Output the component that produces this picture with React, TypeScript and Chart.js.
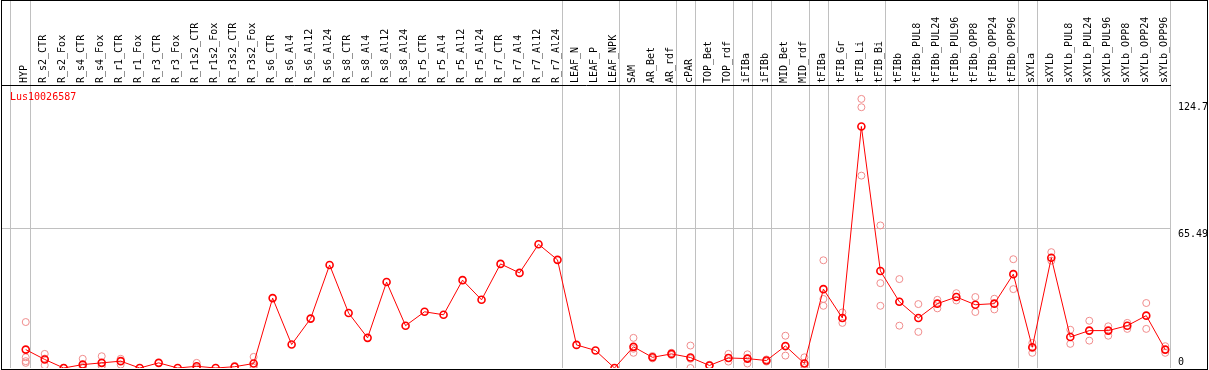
import { useEffect, useRef } from 'react';
import { Chart, registerables } from 'chart.js';

Chart.register(...registerables);

const geneName = 'Lus10026587';

const categories = [
  'HYP', 'R_s2_CTR', 'R_s2_Fox', 'R_s4_CTR', 'R_s4_Fox', 'R_r1_CTR', 'R_r1_Fox', 'R_r3_CTR', 'R_r3_Fox',
  'R_r1s2_CTR', 'R_r1s2_Fox', 'R_r3s2_CTR', 'R_r3s2_Fox', 'R_s6_CTR', 'R_s6_Al4', 'R_s6_Al12', 'R_s6_Al24',
  'R_s8_CTR', 'R_s8_Al4', 'R_s8_Al12', 'R_s8_Al24', 'R_r5_CTR', 'R_r5_Al4', 'R_r5_Al12', 'R_r5_Al24',
  'R_r7_CTR', 'R_r7_Al4', 'R_r7_Al12', 'R_r7_Al24', 'LEAF_N', 'LEAF_P', 'LEAF_NPK', 'SAM', 'AR_Bet', 'AR_rdf',
  'cPAR', 'TOP_Bet', 'TOP_rdf', 'iFIBa', 'iFIBb', 'MID_Bet', 'MID_rdf', 'tFIBa', 'tFIB_Gr', 'tFIB_Li', 'tFIB_Bi',
  'tFIBb', 'tFIBb_PUL8', 'tFIBb_PUL24', 'tFIBb_PUL96', 'tFIBb_OPP8', 'tFIBb_OPP24', 'tFIBb_OPP96',
  'sXYLa', 'sXYLb', 'sXYLb_PUL8', 'sXYLb_PUL24', 'sXYLb_PUL96', 'sXYLb_OPP8', 'sXYLb_OPP24', 'sXYLb_OPP96',
];

const means = [
  8.6, 4.0, 0, 1.6, 2.4, 3.2, 0, 2.4, 0, 0.8, 0, 0.6, 2.1,
  32.7, 11.0, 23.1, 48.2, 25.7, 14.1, 40.2, 19.8, 26.3, 24.9, 41.1, 31.9, 48.7, 44.5, 57.9, 50.6,
  10.8, 8.2, 0, 9.9, 5.0, 6.6, 4.9, 1.2, 4.7, 4.4, 3.5, 10.3, 2.1,
  36.9, 23.4, 113.0, 45.4, 31.0, 23.4, 30.1, 33.2, 29.6, 30.1, 43.9,
  9.7, 51.6, 14.5, 17.5, 17.5, 19.8, 24.5, 8.6,
];

const replicates = [
  [21.5, 5.0, 3.2, 2.4], [6.6, 4.4, 1.3], [0, 0], [4.3, 0.5, 0], [5.5, 1.0, 0.8], [4.3, 3.2, 1.6], [], [], [],
  [2.4, 0.2, 0], [], [1.0, 0.5], [5.2, 1.0, 0.2],
  [], [], [], [], [], [], [], [], [], [], [], [], [], [], [], [],
  [], [], [], [14.1, 9.0, 7.1], [5.6, 4.5], [7.1, 6.1], [10.5, 4.3, 0], [1.5, 1.0], [6.6, 4.7, 3.0],
  [6.4, 4.6, 2.1], [4.0, 3.0], [15.1, 10.0, 5.8], [5.0, 1.2, 0],
  [50.4, 32.3, 29.1], [26.0, 23.4, 21.1], [125.9, 122.0, 90.0], [66.7, 39.7, 29.1], [41.6, 31.0, 19.8],
  [29.9, 16.9], [31.9, 27.9], [35.0, 31.6], [33.2, 26.2], [32.4, 27.4], [50.9, 36.9],
  [11.7, 9.3, 7.1], [54.2, 50.2], [17.9, 11.3], [22.1, 12.8], [19.5, 15.1], [21.1, 18.3], [30.4, 18.3], [10.2, 7.1],
];

const yTickValues = [0, 65.49, 124.7];
const yMax = 132.4;
const separatorsAfter = [0, 28, 31, 34, 35, 37, 38, 39, 41, 42, 45, 52, 53, 60];
const leftSeparator = -0.82;

const FONT = 'DejaVu Sans Mono';
const GRID = '#c0c0c0';
const CLEAR = 'rgba(0,0,0,0)';

const titlePlugin = {
  id: 'geneTitle',
  afterDraw(chart: any) {
    const { ctx, chartArea } = chart;
    ctx.save();
    ctx.font = `10px "${FONT}"`;
    ctx.fillStyle = '#ff0000';
    ctx.textBaseline = 'top';
    ctx.textAlign = 'left';
    ctx.fillText(geneName, chartArea.left + 8, chartArea.top + 7);
    ctx.restore();
  },
};

export default function App() {
  const ref = useRef<HTMLCanvasElement>(null);

  useEffect(() => {
    document.body.style.margin = '0';
    const sepColor = (ctx: any) => {
      const idx = ctx.index;
      if (idx === 0) return GRID;
      return separatorsAfter.includes(idx - 1) ? GRID : CLEAR;
    };
    const meanPoints = means.map((v, i) => ({ x: i, y: v }));
    const repPoints: { x: number; y: number }[] = [];
    replicates.forEach((arr, i) => arr.forEach((v) => repPoints.push({ x: i, y: v })));

    const chart = new Chart(ref.current as HTMLCanvasElement, {
      type: 'line',
      data: {
        datasets: [
          {
            label: geneName,
            data: meanPoints,
            borderColor: '#ff0000',
            borderWidth: 1,
            pointRadius: 3.5,
            pointBorderWidth: 1.6,
            pointBorderColor: '#ff0000',
            pointBackgroundColor: CLEAR,
            tension: 0,
            fill: false,
          },
          {
            label: 'replicates',
            data: repPoints,
            showLine: false,
            borderColor: 'rgb(240,140,140)',
            pointRadius: 3.5,
            pointBorderWidth: 1,
            pointBorderColor: 'rgb(240,140,140)',
            pointBackgroundColor: CLEAR,
          },
        ],
      },
      options: {
        animation: false,
        responsive: false,
        devicePixelRatio: 1,
        events: [],
        layout: { autoPadding: false, padding: { left: 2, right: 0, top: 0, bottom: 2 } },
        plugins: { legend: { display: false }, tooltip: { enabled: false }, title: { display: false } },
        scales: {
          x: {
            type: 'linear',
            position: 'top',
            min: -1.25,
            max: 60.25,
            afterBuildTicks: (s: any) => {
              s.ticks = [leftSeparator, ...categories.map((_, i) => i + 0.25)].map((v) => ({ value: v }));
            },
            afterFit: (s: any) => {
              s.height = 85;
              s.paddingLeft = 0;
              s.paddingRight = 0;
              s.paddingTop = 0;
              s.paddingBottom = 0;
            },
            ticks: {
              autoSkip: false,
              minRotation: 90,
              maxRotation: 90,
              padding: -83,
              labelOffset: 6,
              color: '#000',
              font: { family: FONT, size: 10 },
              callback: (_v: any, idx: number) => (idx === 0 ? '' : categories[idx - 1]),
            },
            grid: { color: sepColor, tickColor: sepColor, tickLength: 85, lineWidth: 1, drawTicks: true },
            border: { display: true, color: '#000', width: 1 },
          },
          y: {
            type: 'linear',
            position: 'right',
            min: 0,
            max: yMax,
            afterBuildTicks: (s: any) => {
              s.ticks = yTickValues.map((v) => ({ value: v }));
            },
            afterFit: (s: any) => {
              s.width = 39;
              s.paddingLeft = 0;
              s.paddingRight = 0;
              s.paddingTop = 0;
              s.paddingBottom = 0;
            },
            ticks: {
              padding: 8,
              color: '#000',
              font: { family: FONT, size: 10 },
              callback: (v: any) => (v === 0 ? ['0', ''] : ['', String(v)]),
            },
            grid: {
              color: (ctx: any) => (ctx.tick && ctx.tick.value === 65.49 ? GRID : CLEAR),
              drawTicks: false,
            },
            border: { display: false },
          },
        },
      },
      plugins: [titlePlugin],
    });
    return () => chart.destroy();
  }, []);

  return (
    <div style={{ position: 'relative', width: 1209, height: 370 }}>
      <canvas ref={ref} width={1209} height={370} style={{ display: 'block' }} />
      <div
        style={{
          position: 'absolute',
          left: 1,
          top: 0,
          width: 1207,
          height: 370,
          boxSizing: 'border-box',
          border: '1px solid #000',
          pointerEvents: 'none',
        }}
      />
    </div>
  );
}
